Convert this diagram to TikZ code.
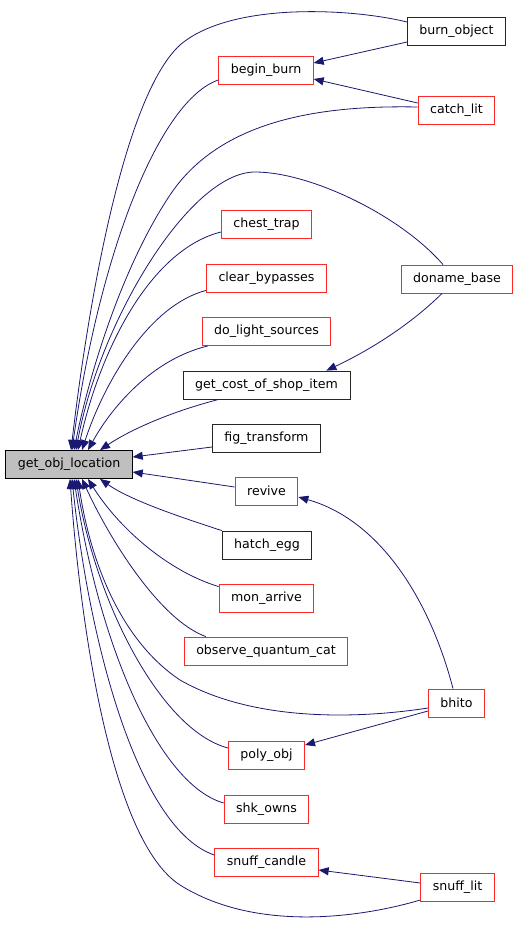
\documentclass[tikz,border=0pt]{standalone}
\usepackage{fontspec}
\setmainfont{DejaVu Sans}
\usetikzlibrary{calc,arrows.meta,positioning}

\definecolor{callblue}{RGB}{25,25,112}
\definecolor{boxred}{RGB}{255,40,40}

\tikzset{
 fn/.style={draw=boxred, fill=white, line width=0.9pt, minimum height=28pt,
  inner xsep=12pt, inner ysep=0pt, font=\fontsize{12.6}{15}\selectfont},
 fnblack/.style={fn, draw=black!85},
 fnroot/.style={fn, draw=black, fill=black!25},
 call/.style={draw=callblue, line width=0.8pt,
  -{Triangle[length=10pt,width=8pt,fill=callblue]}}
}

\begin{document}
\begin{tikzpicture}[x=1pt,y=-1pt]
 \useasboundingbox (0,0) rectangle (520,927);
 % callee
 \node[fnroot] (loc) at (69,464.5) {get\_obj\_location};
 % direct callers
 \node[fn] (begin) at (266,70) {begin\_burn};
 \node[fn] (chest) at (266.5,224.5) {chest\_trap};
 \node[fn] (clear) at (266.5,278) {clear\_bypasses};
 \node[fn] (dolight) at (266.5,331.5) {do\_light\_sources};
 \node[fnblack] (cost) at (266.5,385) {get\_cost\_of\_shop\_item};
 \node[fnblack] (fig) at (266.5,438) {fig\_transform};
 \node[fn] (revive) at (266.5,491) {revive};
 \node[fnblack] (hatch) at (267,545) {hatch\_egg};
 \node[fn] (mon) at (266.5,598) {mon\_arrive};
 \node[fn] (obs) at (266,651) {observe\_quantum\_cat};
 \node[fn] (poly) at (266.5,755) {poly\_obj};
 \node[fn] (shk) at (266.5,809) {shk\_owns};
 \node[fn] (candle) at (266.5,862) {snuff\_candle};
 % outer callers
 \node[fnblack] (burn) at (456.5,31) {burn\_object};
 \node[fn] (catch) at (456.5,110) {catch\_lit};
 \node[fn] (doname) at (457,279) {doname\_base};
 \node[fn] (bhito) at (456.5,703) {bhito};
 \node[fn] (snufflit) at (457.5,887) {snuff\_lit};

 % calls from above
 \draw[call] ($(burn.west)+(0,-9)$) .. controls (350,8) and (230,2) .. (180,45)
  .. controls (120,100) and (85,330) .. ($(loc.north)+(2,0)$);
 \draw[call] ($(begin.west)+(0,10)$) .. controls (160,100) and (100,250) .. ($(loc.north)+(3,0)$);
 \draw[call] ($(catch.west)+(0,-3)$) .. controls (320,105) and (220,120) .. (170,195)
  .. controls (120,270) and (88,380) .. ($(loc.north)+(5,0)$);
 \draw[call] ($(doname.north)+(-14,0)$) .. controls (400,215) and (310,172) .. (255,172)
  .. controls (190,172) and (100,320) .. ($(loc.north)+(7,0)$);
 \draw[call] ($(chest.west)+(0,7.5)$) .. controls (150,250) and (100,350) .. ($(loc.north)+(9,0)$);
 \draw[call] ($(clear.south west)+(0,-2)$) .. controls (150,305) and (105,380) .. ($(loc.north)+(13,0)$);
 \draw[call] ($(dolight.south west)+(6,0)$) .. controls (150,360) and (110,410) .. ($(loc.north)+(19,0)$);
 \draw[call] ($(cost.south west)+(36,0)$) .. controls (170,412) and (130,430) .. ($(loc.north)+(31,0)$);
 \draw[call] ($(fig.west)+(0,9)$) -- ($(loc.east)+(0,-7.5)$);
 % calls from below
 \draw[call] ($(revive.west)+(0,-4)$) -- ($(loc.east)+(0,7.5)$);
 \draw[call] (hatch.north west) .. controls (180,517) and (130,500) .. ($(loc.south)+(31,0)$);
 \draw[call] ($(mon.north west)+(0,3)$) .. controls (170,572) and (120,530) .. ($(loc.south)+(19,0)$);
 \draw[call] ($(obs.north west)+(22,0)$) .. controls (160,620) and (110,540) .. ($(loc.south)+(13,0)$);
 \draw[call] ($(bhito.west)+(0,5)$) .. controls (350,720) and (250,720) .. (180,680)
  .. controls (120,640) and (90,560) .. ($(loc.south)+(9,0)$);
 \draw[call] ($(poly.west)+(0,-7)$) .. controls (160,730) and (95,600) .. ($(loc.south)+(7,0)$);
 \draw[call] ($(shk.west)+(0,-6)$) .. controls (160,785) and (100,650) .. ($(loc.south)+(5,0)$);
 \draw[call] ($(candle.west)+(0,-7)$) .. controls (140,830) and (90,650) .. ($(loc.south)+(3,0)$);
 \draw[call] ($(snufflit.west)+(0,13)$) .. controls (370,915) and (260,935) .. (180,885)
  .. controls (110,840) and (80,620) .. ($(loc.south)+(1,0)$);

 % second level
 \draw[call] ($(burn.west)+(0,11)$) -- ($(begin.east)+(0,-7)$);
 \draw[call] ($(catch.west)+(0,-7)$) -- ($(begin.east)+(0,9)$);
 \draw[call] ($(doname.south)+(-15,0)$) .. controls (410,325) and (370,350) .. ($(cost.north east)+(-24,0)$);
 \draw[call] ($(bhito.north)+(-3.5,0)$) .. controls (430,600) and (380,520) .. ($(revive.east)+(0,6)$);
 \draw[call] ($(bhito.west)+(0,8)$) -- ($(poly.east)+(0,-10)$);
 \draw[call] ($(snufflit.west)+(0,-4)$) -- ($(candle.east)+(0,8)$);
\end{tikzpicture}
\end{document}
